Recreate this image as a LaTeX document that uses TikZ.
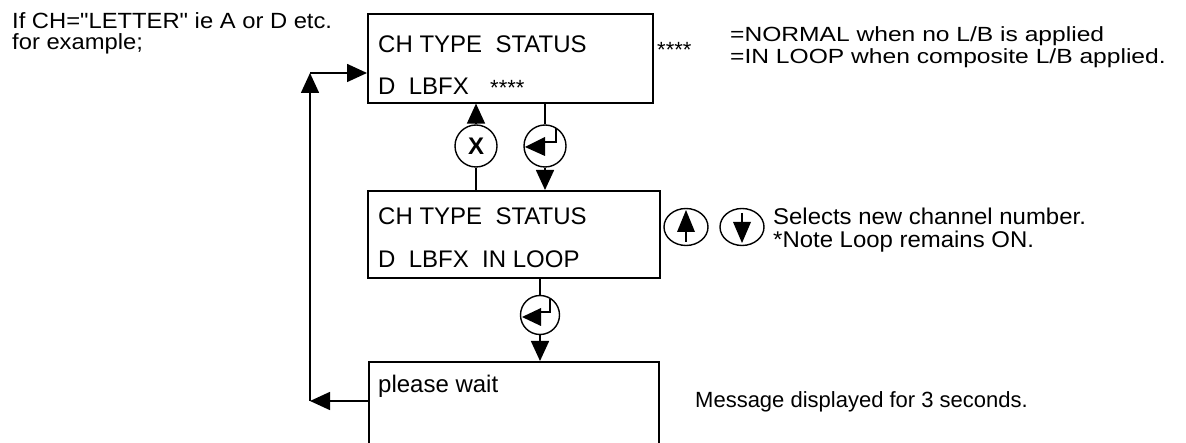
\documentclass[tikz,border=0pt]{standalone}
\usepackage{fontspec}
\setmainfont{Liberation Sans}
\newfontfamily\widesans{Liberation Sans}[FakeStretch=1.08]
\newfontfamily\widernotes{Liberation Sans}[FakeStretch=1.2]
\newfontfamily\selsans{Liberation Sans}[FakeStretch=1.05]
\usetikzlibrary{arrows.meta,shapes.geometric}
\begin{document}
\begin{tikzpicture}[x=1pt,y=-1pt,
  lw/.style={line width=1.6pt},
  box/.style={draw,lw,rectangle,inner sep=0pt,anchor=north west},
  key/.style={draw,line width=1.4pt,circle,minimum size=42pt,inner sep=0pt},
  updown/.style={draw,line width=1.4pt,ellipse,minimum width=44pt,minimum height=37pt,inner sep=0pt},
  arr/.style={lw,-{Triangle[length=20pt,width=18pt]}},
  glyph/.style={line width=1.6pt},
  txt/.style={anchor=base west,inner sep=0pt,font=\fontsize{24}{24}\selectfont},
  boxtxt/.style={txt,font=\fontsize{24}{24}\selectfont},
  lefttxt/.style={txt,font=\widesans\fontsize{22}{22}\selectfont},
  note/.style={txt,font=\widernotes\fontsize{20.5}{20.5}\selectfont},
  sel/.style={txt,font=\selsans\fontsize{22.8}{22.8}\selectfont},
  msg/.style={txt,font=\fontsize{22}{22}\selectfont},
  star/.style={txt,font=\fontsize{22}{22}\selectfont}]
\clip (0,0) rectangle (1186,443);

% boxes
\node[box,minimum width=285pt,minimum height=89pt] (b1) at (367,13) {};
\node[box,minimum width=292pt,minimum height=87pt] (b2) at (367,190) {};
\node[box,minimum width=290pt,minimum height=130pt] (b3) at (368,361) {};

% box texts
\node[boxtxt] (t1a) at (378,53) {CH TYPE\ \ STATUS};
\node[boxtxt] (t1b) at (378,95) {D\ \ LBFX};
\node[star] (t1c) at (490,96) {****};
\node[boxtxt] (t2a) at (378,225) {CH TYPE\ \ STATUS};
\node[boxtxt] (t2b) at (378,268) {D\ \ LBFX\ \ IN LOOP};
\node[boxtxt] (t3) at (378,393) {please wait};

% side texts
\node[lefttxt] (l1) at (12,29) {If CH="LETTER" ie A or D etc.};
\node[lefttxt] (l2) at (12,50) {for example;};
\node[star] (s1) at (657,58) {****};
\node[note] (n1) at (730,42) {=NORMAL when no L/B is applied};
\node[note] (n2) at (730,64) {=IN LOOP when composite L/B applied.};
\node[sel] (n3) at (773,225) {Selects new channel number.};
\node[sel] (n4) at (773,248) {*Note Loop remains ON.};
\node[msg] (n5) at (695,408) {Message displayed for 3 seconds.};

% keys
\node[key,font=\bfseries\fontsize{24}{24}\selectfont] (xk) at (476,146) {X};
\node[key] (e1) at (545,146) {};
\node[key,minimum size=39pt] (e2) at (540,315) {};
\node[updown] (up) at (686,227) {};
\node[updown] (dn) at (742,227) {};

% enter glyphs
\fill[shift={(e1.center)}] (-20,1) -- (0,-9) -- (0,10) -- cycle;
\draw[glyph,shift={(e1.center)}] (11,-18) -- (11,-4) -- (0,-4);
\fill[shift={(e2.center)}] (-18,2) -- (1,-7) -- (1,11) -- cycle;
\draw[glyph,shift={(e2.center)}] (10,-16) -- (10,-3) -- (1,-3);

% up/down glyphs
\fill[shift={(up.center)}] (0,-17) -- (-9,5) -- (9,5) -- cycle;
\draw[glyph,shift={(up.center)}] (0,4) -- (0,15);
\fill[shift={(dn.center)}] (0,16) -- (-9,-5) -- (9,-5) -- cycle;
\draw[glyph,shift={(dn.center)}] (0,-14) -- (0,-4);

% connectors
\draw[arr] (xk.north) -- (xk.north |- b1.south);
\draw[lw] (xk.south) -- (xk.south |- b2.north);
\draw[lw] (e1.north |- b1.south) -- (e1.north);
\draw[arr] (e1.south) -- (e1.south |- b2.north);
\draw[lw] (e2.north |- b2.south) -- (e2.north);
\draw[arr] (e2.south) -- (e2.south |- b3.north);

% loop back
\coordinate (cb) at (310,401);
\coordinate (ct) at (310,73);
\draw[arr] (b3.west |- cb) -- (cb);
\draw[arr] (cb) -- (ct);
\draw[arr] (ct) -- (ct -| b1.west);
\end{tikzpicture}
\end{document}
